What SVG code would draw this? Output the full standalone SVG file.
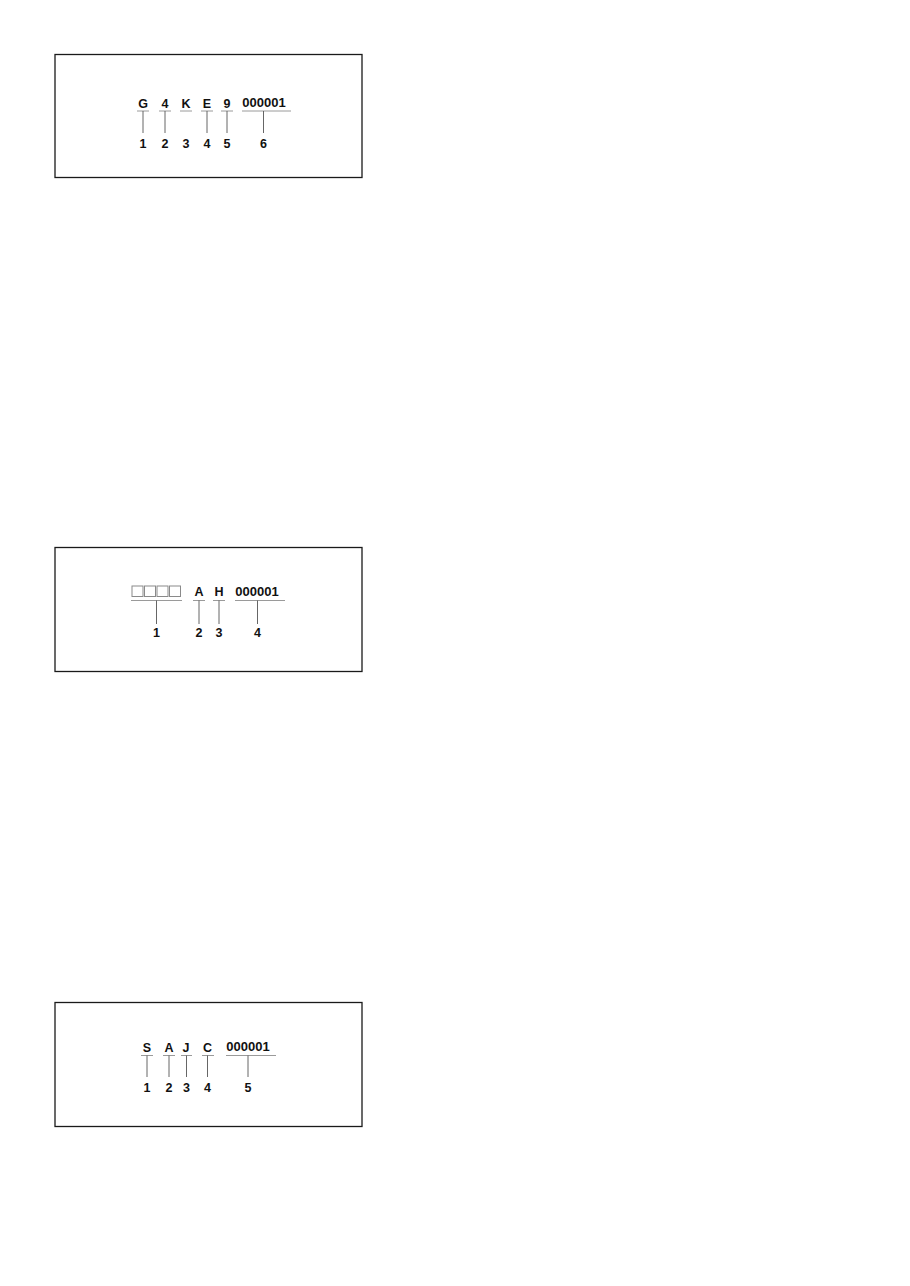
<svg xmlns="http://www.w3.org/2000/svg" width="910" height="1286" viewBox="0 0 910 1286">
<style>
.frame{fill:#fff;stroke:#1a1a1a;stroke-width:1.3}
.code{font-family:"Liberation Sans",Arial,sans-serif;font-weight:bold;font-size:12.5px;fill:#111;text-anchor:middle}
.ser{font-size:13px}
.num{font-family:"Liberation Sans",Arial,sans-serif;font-weight:bold;font-size:12.5px;fill:#111;text-anchor:middle}
.ul{stroke:#9a9a9a;stroke-width:1;fill:none}
.ld{stroke:#555;stroke-width:0.9;fill:none}
.sq{fill:#fff;stroke:#8a8a8a;stroke-width:1}
</style>
<rect width="910" height="1286" fill="#fff"/>

<g id="box1">
<rect class="frame" x="55" y="54.5" width="307" height="123"/>
<text class="code" x="143" y="108">G</text>
<text class="code" x="165" y="108">4</text>
<text class="code" x="186" y="108">K</text>
<text class="code" x="207" y="108">E</text>
<text class="code" x="227" y="108">9</text>
<text class="code ser" x="264" y="107">000001</text>
<line class="ul" x1="137" y1="111" x2="149" y2="111"/>
<line class="ul" x1="159" y1="111" x2="171" y2="111"/>
<line class="ul" x1="180" y1="111" x2="192" y2="111"/>
<line class="ul" x1="201" y1="111" x2="213" y2="111"/>
<line class="ul" x1="221" y1="111" x2="233" y2="111"/>
<line class="ul" x1="242" y1="111" x2="291" y2="111"/>
<text class="num" x="143" y="147.5">1</text>
<text class="num" x="165" y="147.5">2</text>
<text class="num" x="186" y="147.5">3</text>
<text class="num" x="207" y="147.5">4</text>
<text class="num" x="227" y="147.5">5</text>
<text class="num" x="263.5" y="147.5">6</text>
</g>

<g id="box2">
<rect class="frame" x="55" y="547.5" width="307" height="124"/>
<rect class="sq" x="132" y="586" width="11" height="10.5"/>
<rect class="sq" x="144.5" y="586" width="11" height="10.5"/>
<rect class="sq" x="157" y="586" width="11" height="10.5"/>
<rect class="sq" x="169.5" y="586" width="11" height="10.5"/>
<text class="code" x="199" y="596">A</text>
<text class="code" x="219" y="596">H</text>
<text class="code ser" x="257" y="596">000001</text>
<line class="ul" x1="131" y1="600.5" x2="182" y2="600.5"/>
<line class="ul" x1="193" y1="600.5" x2="205" y2="600.5"/>
<line class="ul" x1="213" y1="600.5" x2="225" y2="600.5"/>
<line class="ul" x1="235" y1="600.5" x2="285" y2="600.5"/>
<text class="num" x="156.5" y="636.5">1</text>
<text class="num" x="199" y="636.5">2</text>
<text class="num" x="219" y="636.5">3</text>
<text class="num" x="257.5" y="636.5">4</text>
</g>

<g id="box3">
<rect class="frame" x="55" y="1002.5" width="307" height="124"/>
<text class="code" x="147" y="1052">S</text>
<text class="code" x="169" y="1052">A</text>
<text class="code" x="186" y="1052">J</text>
<text class="code" x="207.5" y="1052">C</text>
<text class="code ser" x="248" y="1051">000001</text>
<line class="ul" x1="141" y1="1055.5" x2="153" y2="1055.5"/>
<line class="ul" x1="163" y1="1055.5" x2="175" y2="1055.5"/>
<line class="ul" x1="181" y1="1055.5" x2="192" y2="1055.5"/>
<line class="ul" x1="202" y1="1055.5" x2="214" y2="1055.5"/>
<line class="ul" x1="226" y1="1055.5" x2="276" y2="1055.5"/>
<text class="num" x="147" y="1091.5">1</text>
<text class="num" x="169" y="1091.5">2</text>
<text class="num" x="186.5" y="1091.5">3</text>
<text class="num" x="207.5" y="1091.5">4</text>
<text class="num" x="248" y="1091.5">5</text>
</g>

<g id="connectors">
<line class="ld" x1="143" y1="111" x2="143" y2="133"/>
<line class="ld" x1="165" y1="111" x2="165" y2="133"/>
<line class="ld" x1="207" y1="111" x2="207" y2="133"/>
<line class="ld" x1="227" y1="111" x2="227" y2="133"/>
<line class="ld" x1="263.5" y1="111" x2="263.5" y2="133"/>
<line class="ld" x1="156.5" y1="600.5" x2="156.5" y2="624"/>
<line class="ld" x1="199" y1="600.5" x2="199" y2="624"/>
<line class="ld" x1="219" y1="600.5" x2="219" y2="624"/>
<line class="ld" x1="257.5" y1="600.5" x2="257.5" y2="624"/>
<line class="ld" x1="147" y1="1055.5" x2="147" y2="1077"/>
<line class="ld" x1="169" y1="1055.5" x2="169" y2="1077"/>
<line class="ld" x1="186.5" y1="1055.5" x2="186.5" y2="1077"/>
<line class="ld" x1="207.5" y1="1055.5" x2="207.5" y2="1077"/>
<line class="ld" x1="248" y1="1055.5" x2="248" y2="1077"/>
</g>
</svg>
